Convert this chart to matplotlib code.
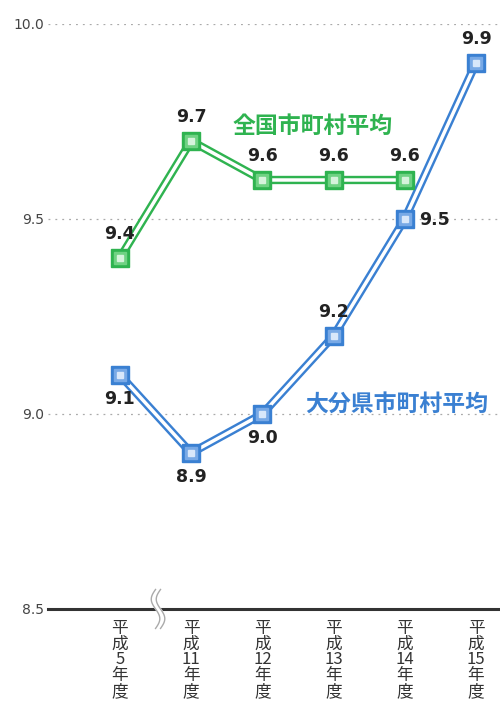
import matplotlib.pyplot as plt
import numpy as np

plt.rcParams['font.family'] = ['Noto Sans CJK JP', 'DejaVu Sans']

years = ["平\n成\n5\n年\n度", "平\n成\n11\n年\n度", "平\n成\n12\n年\n度",
         "平\n成\n13\n年\n度", "平\n成\n14\n年\n度", "平\n成\n15\n年\n度"]
oita = [9.1, 8.9, 9.0, 9.2, 9.5, 9.9]
national = [9.4, 9.7, 9.6, 9.6, 9.6]
yticks = [8.5, 9.0, 9.5, 10.0]

green = "#2fb350"
blue = "#3a80d2"

fig = plt.figure(figsize=(5, 7.1), dpi=100)
ax = fig.add_axes([0.096, 0.1423, 0.904, 0.9662 - 0.1423])
ax.set_xlim(-1.01, 5.337)
ax.set_ylim(8.5, 10.0)

for y in yticks[1:]:
    ax.axhline(y, color="#aaaaaa", lw=0.9, ls=(0, (1.5, 4)), zorder=0)
ax.axhline(8.5, color="#333333", lw=2.2, zorder=1, clip_on=False)

def draw_series(vals, color, mid, light):
    x = np.arange(len(vals))
    ax.plot(x, vals, color=color, lw=6, solid_joinstyle="miter", zorder=2, clip_on=False)
    ax.plot(x, vals, color="white", lw=2.5, solid_joinstyle="miter", zorder=3, clip_on=False)
    ax.plot(x, vals, ls="none", marker="s", ms=13, mfc=color, mec=color, zorder=4, clip_on=False)
    ax.plot(x, vals, ls="none", marker="s", ms=9, mfc=mid, mec=mid, zorder=5, clip_on=False)
    ax.plot(x, vals, ls="none", marker="s", ms=5, mfc=light, mec=light, zorder=6, clip_on=False)

draw_series(national, green, "#6fd283", "#d6f3dc")
draw_series(oita, blue, "#78a9e6", "#d8e7fa")

lbl = dict(fontsize=12.5, fontweight="bold", color="#222222", ha="center", family="DejaVu Sans")
# national labels (above)
for i, v in enumerate(national):
    ax.annotate(f"{v:.1f}", (i, v), xytext=(0, 11), textcoords="offset points", va="bottom", **lbl)
# oita labels
offs = [(0, -11, "top"), (0, -11, "top"), (0, -11, "top"), (0, 11, "bottom"), (None, None, None), (0, 11, "bottom")]
for i, v in enumerate(oita):
    if i == 4:
        ax.annotate(f"{v:.1f}", (i, v), xytext=(10, -1), textcoords="offset points",
                    va="center", **{**lbl, "ha": "left"})
    else:
        dx, dy, va = offs[i]
        ax.annotate(f"{v:.1f}", (i, v), xytext=(dx, dy), textcoords="offset points", va=va, **lbl)

ax.text(2.71, 9.738, "全国市町村平均", color=green, fontsize=16.5, fontweight="bold",
        ha="center", va="center")
ax.text(3.88, 9.026, "大分県市町村平均", color=blue, fontsize=16.5, fontweight="bold",
        ha="center", va="center")

ax.set_yticks(yticks)
ax.set_yticklabels([f"{t:.1f}" for t in yticks], color="#444444", fontsize=10, family="DejaVu Sans")
ax.tick_params(axis="y", length=0, pad=3)
ax.set_xticks(range(len(years)))
ax.set_xticklabels(years, color="#333333", fontsize=12, linespacing=0.9, va="top")
ax.tick_params(axis="x", length=0, pad=8)
for s in ax.spines.values():
    s.set_visible(False)

# axis break mark
t = np.linspace(0, 1, 40)
ax.fill_betweenx(8.45 + t * 0.1, 0.5 + 0.06 * np.sin(t * 2 * np.pi),
                 0.57 + 0.06 * np.sin(t * 2 * np.pi), color="white", zorder=4, clip_on=False)
for dx in (0.0, 0.07):
    xs = 0.5 + dx + 0.06 * np.sin(t * 2 * np.pi)
    ys = 8.45 + t * 0.1
    ax.plot(xs, ys, color="#aaaaaa", lw=1, clip_on=False, zorder=5)

fig.savefig("out.png", dpi=100)
